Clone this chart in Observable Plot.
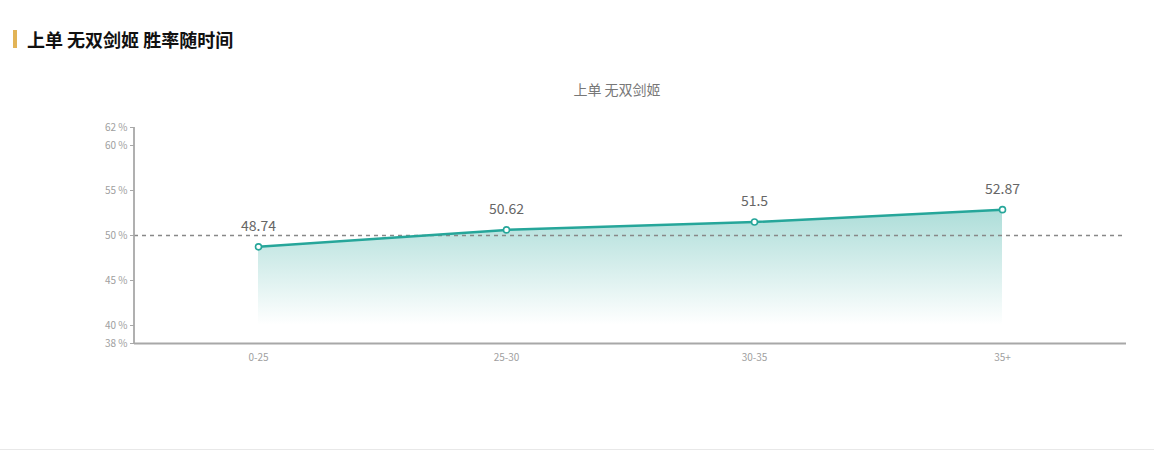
<!DOCTYPE html>
<html>
<head>
<meta charset="utf-8">
<script src="https://cdn.jsdelivr.net/npm/d3@7"></script>
<script src="https://cdn.jsdelivr.net/npm/@observablehq/plot@0.6"></script>
<style>
  html, body { margin: 0; padding: 0; background: #fff; }
  body { width: 1154px; height: 451px; position: relative; overflow: hidden; font-family: "Noto Sans CJK SC", "Noto Sans", sans-serif; }
  #bar { position: absolute; left: 13px; top: 30px; width: 4px; height: 18px; background: #e2b457; }
  #head { position: absolute; left: 27px; top: 27px; font-size: 18px; font-weight: bold; color: #111; line-height: 24px; }
  #title { position: absolute; left: 617px; top: 79px; transform: translateX(-50%); font-size: 14px; color: #777; line-height: 20px; white-space: nowrap; }
  #chart { position: absolute; left: 0; top: 0; }
  #bottomline { position: absolute; left: 0; top: 449px; width: 1154px; height: 1px; background: #e8e8e8; }
</style>
</head>
<body>
<div id="chart"></div>
<div id="bar"></div>
<div id="head">上单 无双剑姬 胜率随时间</div>
<div id="title">上单 无双剑姬</div>
<div id="bottomline"></div>
<script>
const categories = ["0-25", "25-30", "30-35", "35+"];
const winRates = [48.74, 50.62, 51.5, 52.87];
const yTicks = [38, 40, 45, 50, 55, 60, 62];
const baseline = 50;
const areaFloor = 40;

const data = categories.map((c, i) => ({cat: c, value: winRates[i]}));
const teal = "#26a69a";

const defs = () => {
  const d = d3.create("svg:defs");
  const g = d.append("linearGradient").attr("id", "areaGrad")
    .attr("x1", 0).attr("y1", 0).attr("x2", 0).attr("y2", 1);
  g.append("stop").attr("offset", "0%").attr("stop-color", teal).attr("stop-opacity", 0.38);
  g.append("stop").attr("offset", "100%").attr("stop-color", teal).attr("stop-opacity", 0.0);
  return d.node();
};

const leftAxisLine = (index, scales, values, dim) => {
  const l = d3.create("svg:line")
    .attr("x1", dim.marginLeft).attr("x2", dim.marginLeft)
    .attr("y1", dim.marginTop).attr("y2", dim.height - dim.marginBottom)
    .attr("stroke", "#a8a8a8").attr("stroke-width", 1.8);
  return l.node();
};

const plot = Plot.plot({
  width: 1154,
  height: 450,
  marginLeft: 134,
  marginRight: 28,
  marginTop: 127,
  marginBottom: 107,
  style: { fontFamily: "'Noto Sans CJK SC', 'Noto Sans', sans-serif", background: "transparent" },
  x: { type: "point", domain: categories, padding: 0.5, label: null },
  y: { domain: [38, 62], label: null },
  marks: [
    defs,
    Plot.areaY(data, { x: "cat", y1: areaFloor, y2: "value", fill: "url(#areaGrad)" }),
    Plot.ruleY([baseline], { stroke: "#888", strokeWidth: 1.5, strokeDasharray: "4,4" }),
    Plot.ruleY([38], { stroke: "#a8a8a8", strokeWidth: 1.8 }),
    leftAxisLine,
    Plot.axisY({ ticks: yTicks, tickFormat: d => d + " %", tickSize: 4, tickPadding: 3, fontSize: 10, color: "#a0a0a0", stroke: "#a8a8a8", label: null }),
    Plot.axisX({ tickSize: 0, tickPadding: 10, fontSize: 10, color: "#a0a0a0", label: null }),
    Plot.line(data, { x: "cat", y: "value", stroke: teal, strokeWidth: 2.5 }),
    Plot.dot(data, { x: "cat", y: "value", r: 3, fill: "#fff", stroke: teal, strokeWidth: 1.6 }),
    Plot.text(data, { x: "cat", y: "value", text: d => String(d.value), dy: -20, fontSize: 14, fill: "#666" })
  ]
});
document.getElementById("chart").appendChild(plot);
</script>
</body>
</html>
